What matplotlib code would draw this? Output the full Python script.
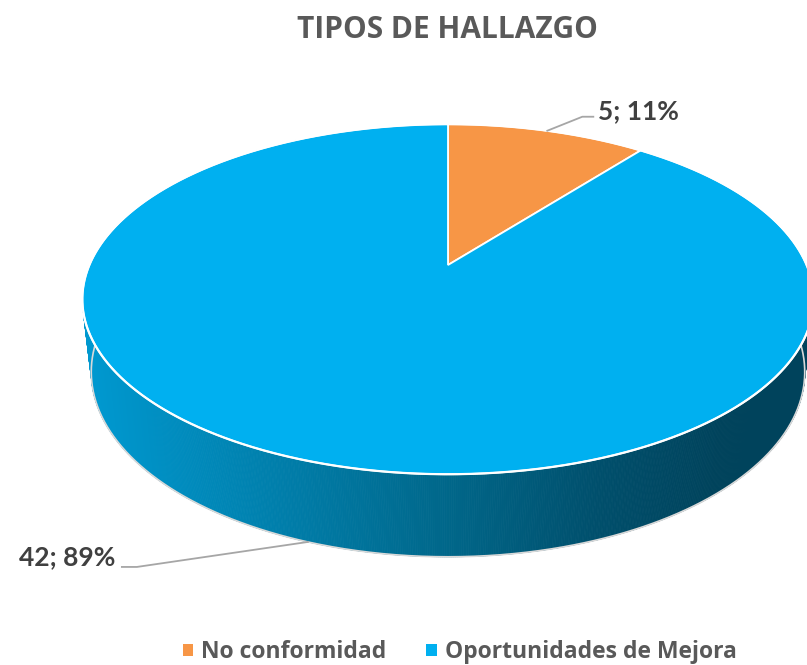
import numpy as np
import matplotlib.pyplot as plt
from matplotlib.collections import PolyCollection
from matplotlib.patches import Patch, Polygon
from matplotlib.colors import to_rgb

categories = ["No conformidad", "Oportunidades de Mejora"]
values = [5, 42]
colors = ["#F79646", "#00B0F0"]
title = "TIPOS DE HALLAZGO"

plt.rcParams['font.family'] = ['Lato', 'DejaVu Sans']

# camera for the 3d pie, in pixel space
phi = np.radians(28)
D = 4.52
F = 1621
X0, Y0 = 448, 265
H = 0.232


def proj(x, y, z):
    dy = y + D * np.cos(phi)
    dz = z - D * np.sin(phi)
    depth = dy * np.cos(phi) - dz * np.sin(phi)
    sx = x / depth
    sy = (dy * np.sin(phi) + dz * np.cos(phi)) / depth
    return X0 + F * sx, Y0 - F * sy


def rim(th, z):
    return proj(np.sin(th), np.cos(th), z)


fig = plt.figure(figsize=(8.07, 6.65), dpi=100)
ax = fig.add_axes([0, 0, 1, 1])
ax.set_xlim(0, 807)
ax.set_ylim(665, 0)
ax.axis('off')

total = sum(values)
fracs = np.array(values) / total
bounds = np.concatenate([[0], np.cumsum(fracs)]) * 2 * np.pi

# side wall, only the faces turned to the camera
stops_x = [90, 250, 446, 600, 720, 820]
stops_c = ["#0098cf", "#0082b0", "#00678a", "#004f6c", "#00435c", "#00435c"]
stops_rgb = np.array([to_rgb(c) for c in stops_c])

th = np.linspace(0, 2 * np.pi, 1441)
cam = np.array([0, -D * np.cos(phi), D * np.sin(phi)])
quads, qcols = [], []
for a, b in zip(th[:-1], th[1:]):
    m = (a + b) / 2
    n = np.array([np.sin(m), np.cos(m), 0])
    p = np.array([np.sin(m), np.cos(m), -H / 2])
    if np.dot(n, cam - p) <= 0:
        continue
    xa, ya = rim(a, 0)
    xb, yb = rim(b, 0)
    xc, yc = rim(b, -H)
    xd, yd = rim(a, -H)
    quads.append([(xa, ya), (xb, yb), (xc, yc), (xd, yd)])
    mx = (xa + xb) / 2
    qcols.append([np.interp(mx, stops_x, stops_rgb[:, k]) for k in range(3)])
ax.add_collection(PolyCollection(quads, facecolors=qcols, edgecolors=qcols, linewidths=0.6))

# light outline on the bottom rim
front = th[(th > np.pi / 2 - 0.35) & (th < 3 * np.pi / 2 + 0.35)]
bx, by = rim(front, -H)
ax.plot(bx, by, color="#d9d9d9", lw=1.2, zorder=1)

# top face
cx, cy = proj(0, 0, 0)
for i in range(len(values)):
    t = np.linspace(bounds[i], bounds[i + 1], 400)
    px, py = rim(t, 0)
    pts = np.column_stack([np.r_[cx, px], np.r_[cy, py]])
    ax.add_patch(Polygon(pts, closed=True, facecolor=colors[i], edgecolor="white", lw=1.3, zorder=3))
rx, ry = rim(th, 0)
ax.plot(rx, ry, color="white", lw=1.6, zorder=4)

# data labels
labels = [f"{v}; {round(v / total * 100)}%" for v in values]
mid0 = (bounds[0] + bounds[1]) / 2
ax0, ay0 = rim(mid0, 0)
ax.plot([ax0, ax0 + 35, ax0 + 46], [ay0, ay0 - 14, ay0 - 14], color="#a6a6a6", lw=1.3, zorder=5)
ax.text(ax0 + 51, ay0 - 12, labels[0], fontsize=19, fontweight='bold', color="#404040",
        ha='left', va='baseline', zorder=6)

mid1 = (bounds[1] + bounds[2]) / 2
ax1, ay1 = rim(mid1, -H)
ax.plot([ax1, ax1 - 171, ax1 - 186], [ay1, ay1 + 25, ay1 + 25], color="#a6a6a6", lw=1.3, zorder=5)
ax.text(ax1 - 193, ay1 + 23, labels[1], fontsize=19, fontweight='bold', color="#404040",
        ha='right', va='baseline', zorder=6)

ax.text(447, 30, title, fontsize=21.5, fontweight='bold', color="#595959", ha='center', va='center',
        family=['Open Sans', 'DejaVu Sans'])

handles = [Patch(facecolor=c, edgecolor='none') for c in colors]
leg = fig.legend(handles, categories, loc='center', bbox_to_anchor=(0.5694, 1 - 652 / 665), ncol=2,
                 frameon=False, handlelength=0.45, handleheight=0.45, handletextpad=0.35,
                 columnspacing=1.75, prop={'family': ['Open Sans', 'DejaVu Sans'], 'size': 16.5, 'weight': 'bold'})
for t in leg.get_texts():
    t.set_color("#595959")

fig.savefig("out.png", dpi=100)
